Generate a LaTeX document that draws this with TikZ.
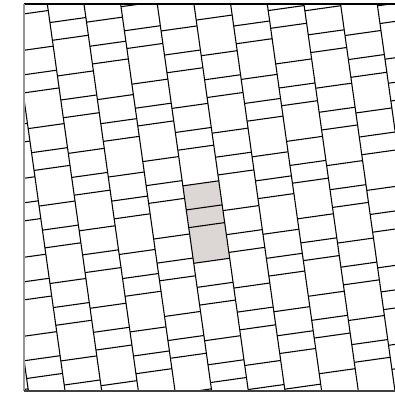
\documentclass[tikz,border=0pt]{standalone}
\definecolor{shadefill}{RGB}{220,214,213}
\definecolor{framegray}{RGB}{150,150,150}
\begin{document}
\begin{tikzpicture}[x=0.75pt,y=-0.75pt,
  tileline/.style={line width=0.8pt, black},
  shadedtile/.style={fill=shadefill, draw=black, line width=0.8pt}]
\useasboundingbox (0,0) rectangle (395,392);
\begin{scope}
  \clip (24,4) rectangle (395,391);
  \begin{scope}[rotate=8]
    % shaded unit in column 3
    \fill[shadefill] (155.2,209.5) rectangle (191.5,287.7);
    \foreach \k in {-3,...,9} {
      \pgfmathsetmacro{\ua}{46.3+36.3*\k}
      \pgfmathsetmacro{\ub}{\ua+36.3}
      \pgfmathtruncatemacro{\idx}{mod(\k+4,4)}
      \pgfmathsetmacro{\off}{{5,34,23.5,53.1}[\idx]}
      \draw[tileline] (\ua,-30) -- (\ua,480);
      \foreach \n in {-2,...,6} {
        \pgfmathsetmacro{\va}{\off+78.2*\n}
        \pgfmathsetmacro{\vb}{\va+24.3}
        \pgfmathsetmacro{\vc}{\va+42.2}
        \draw[tileline] (\ua,\va) -- (\ub,\va);
        \draw[tileline] (\ua,\vb) -- (\ub,\vb);
        \draw[tileline] (\ua,\vc) -- (\ub,\vc);
      }
    }
  \end{scope}
\end{scope}
\draw[line width=0.9pt, black] (24,4) -- (395,4);
\draw[line width=1.1pt, framegray] (24,4) -- (24,391);
\draw[line width=1.1pt, black!75] (24,391) -- (395,391);
\end{tikzpicture}
\end{document}
